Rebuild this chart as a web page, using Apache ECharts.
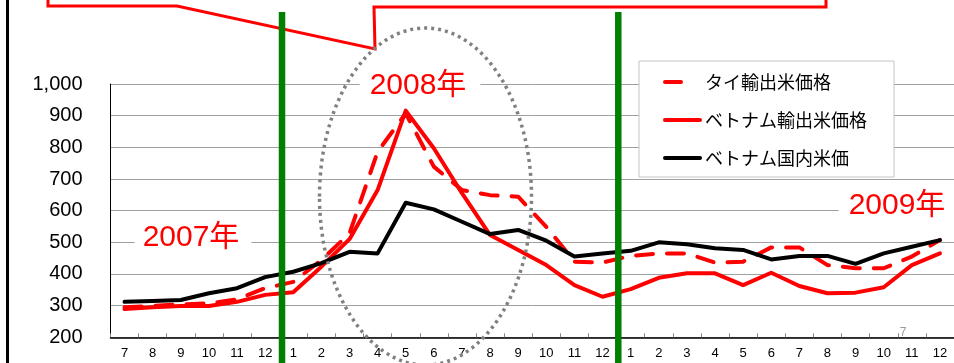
<!DOCTYPE html>
<html>
<head>
<meta charset="utf-8">
<script src="https://cdn.jsdelivr.net/npm/echarts@6/dist/echarts.min.js"></script>
<style>
  html, body { margin: 0; padding: 0; background: #fff; }
  #chart { width: 954px; height: 363px; }
</style>
</head>
<body>
<div id="chart"></div>
<script>
// Monthly periods, July 2007 – December 2009
const periods = [
  '2007-07','2007-08','2007-09','2007-10','2007-11','2007-12',
  '2008-01','2008-02','2008-03','2008-04','2008-05','2008-06',
  '2008-07','2008-08','2008-09','2008-10','2008-11','2008-12',
  '2009-01','2009-02','2009-03','2009-04','2009-05','2009-06',
  '2009-07','2009-08','2009-09','2009-10','2009-11','2009-12'
];
const monthLabels = [
  '7','8','9','10','11','12',
  '1','2','3','4','5','6','7','8','9','10','11','12',
  '1','2','3','4','5','6','7','8','9','10','11','12'
];
const seriesNames = ['タイ輸出米価格', 'ベトナム輸出米価格', 'ベトナム国内米価'];

// Rice prices (USD / ton)
const thaiExport = [
  295, 299, 304, 307, 320, 355,
  375, 444, 528, 786, 907, 739, 665, 649, 644, 549, 439, 436,
  457, 465, 465, 436, 439, 484, 484, 428, 418, 418, 455, 507
];
const vietnamExport = [
  289, 295, 299, 299, 312, 334,
  342, 423, 510, 665, 916, 797, 655, 523, 476, 428, 365, 328,
  352, 388, 402, 402, 365, 404, 362, 339, 341, 358, 428, 465
];
const vietnamDomestic = [
  312, 315, 318, 339, 355, 390,
  407, 434, 470, 465, 625, 604, 565, 526, 539, 505, 455, 465,
  473, 500, 494, 481, 476, 446, 457, 457, 432, 465, 486, 507
];

const yTicks = { min: 200, max: 1000, step: 100 };
const yearLabels = ['2007年', '2008年', '2009年'];
const pageNumber = '7';

const RED = '#ff0000';
const GREEN = '#008000';
const LATIN = '"Liberation Sans", Arial, sans-serif';
const CJK = '"Liberation Sans", "Noto Sans CJK JP", sans-serif';

const chart = echarts.init(document.getElementById('chart'), null, { renderer: 'canvas' });

const option = {
  animation: false,
  backgroundColor: '#fff',
  grid: { left: 110.5, top: 84, width: 853.5, height: 253.3 },
  legend: {
    orient: 'vertical',
    left: 639, top: 61,
    padding: [12, 27, 10, 24],
    itemGap: 20, itemWidth: 35, itemHeight: 18,
    backgroundColor: '#fff',
    borderColor: '#c4c4c4', borderWidth: 1,
    textStyle: { fontSize: 18, lineHeight: 18, color: '#000', fontFamily: '"Noto Sans CJK JP", sans-serif' },
    data: [
      { name: seriesNames[0], itemStyle: { opacity: 0 }, lineStyle: { width: 4, type: [16, 40], cap: 'round' } },
      { name: seriesNames[1], itemStyle: { opacity: 0 }, lineStyle: { width: 4, cap: 'round' } },
      { name: seriesNames[2], itemStyle: { opacity: 0 }, lineStyle: { width: 4, cap: 'round' } }
    ]
  },
  xAxis: {
    type: 'category',
    data: periods,
    boundaryGap: true,
    axisLine: { lineStyle: { color: '#000', width: 1.5 } },
    axisTick: { show: true, inside: true, length: 4, interval: 0, lineStyle: { color: '#888' } },
    axisLabel: {
      interval: 0, margin: 10, fontSize: 13, color: '#000', fontFamily: LATIN,
      formatter: (v, i) => monthLabels[i]
    },
    splitLine: { show: false }
  },
  yAxis: {
    type: 'value',
    min: yTicks.min, max: yTicks.max, interval: yTicks.step,
    axisLine: { show: true, lineStyle: { color: '#000', width: 1 } },
    axisTick: { show: false },
    axisLabel: {
      margin: 28, fontSize: 20, color: '#000', fontFamily: LATIN,
      formatter: v => v.toLocaleString('en-US')
    },
    splitLine: { lineStyle: { color: '#a0a0a0', width: 1 } }
  },
  series: [
    {
      name: seriesNames[0], type: 'line', data: thaiExport, symbol: 'none',
      lineStyle: { color: RED, width: 4, type: [17, 14], cap: 'round', join: 'round' },
      itemStyle: { color: RED }, z: 2
    },
    {
      name: seriesNames[1], type: 'line', data: vietnamExport, symbol: 'none',
      lineStyle: { color: RED, width: 4, cap: 'round', join: 'round' },
      itemStyle: { color: RED }, z: 3
    },
    {
      name: seriesNames[2], type: 'line', data: vietnamDomestic, symbol: 'none',
      lineStyle: { color: '#000', width: 4, cap: 'round', join: 'round' },
      itemStyle: { color: '#000' }, z: 4
    }
  ]
};
chart.setOption(option);

// Year dividers drawn between December and January
function dividerBetween(i, t) {
  const a = chart.convertToPixel({ xAxisIndex: 0 }, i);
  const b = chart.convertToPixel({ xAxisIndex: 0 }, i + 1);
  return a + (b - a) * t;
}
const dividerX = [dividerBetween(5, 0.6), dividerBetween(17, 0.56)];

function yearText(text, x, y, pad) {
  return {
    type: 'text', z: 20,
    x: x, y: y,
    style: {
      text: text, fill: RED, font: '30px ' + CJK,
      align: 'center', verticalAlign: 'middle',
      backgroundColor: '#fff', padding: pad
    }
  };
}

chart.setOption({
  graphic: [
    // slide frame edge
    { type: 'line', z: 50, shape: { x1: 7.5, y1: 0, x2: 7.5, y2: 363 }, style: { stroke: '#000', lineWidth: 3 } },
    // callout box with pointer
    {
      type: 'polyline', z: 40,
      shape: { points: [[48, -10], [48, 6], [177, 6], [375, 49], [374, 7], [826, 7], [826, -10]] },
      style: { stroke: RED, lineWidth: 3, fill: null, lineJoin: 'miter' }
    },
    // highlighted 2008 spike
    {
      type: 'ellipse', z: 45,
      shape: { cx: 425.5, cy: 196.5, rx: 106, ry: 168.5 },
      style: { stroke: '#808080', fill: null, lineWidth: 3.5, lineDash: [3, 4] }
    },
    yearText(yearLabels[0], 193, 238, [3, 12, 3, 8]),
    yearText(yearLabels[1], 420, 86, [3, 14, 3, 10]),
    yearText(yearLabels[2], 897, 206, [3, 10, 3, 10]),
    {
      type: 'text', z: 20, x: 903, y: 333,
      style: { text: pageNumber, fill: '#999', font: '12px ' + LATIN, align: 'center', verticalAlign: 'middle' }
    },
    // year dividers
    { type: 'line', z: 60, shape: { x1: dividerX[0], y1: 12, x2: dividerX[0], y2: 363 }, style: { stroke: GREEN, lineWidth: 6.5 } },
    { type: 'line', z: 60, shape: { x1: dividerX[1], y1: 12, x2: dividerX[1], y2: 363 }, style: { stroke: GREEN, lineWidth: 6.5 } }
  ]
});
</script>
</body>
</html>
